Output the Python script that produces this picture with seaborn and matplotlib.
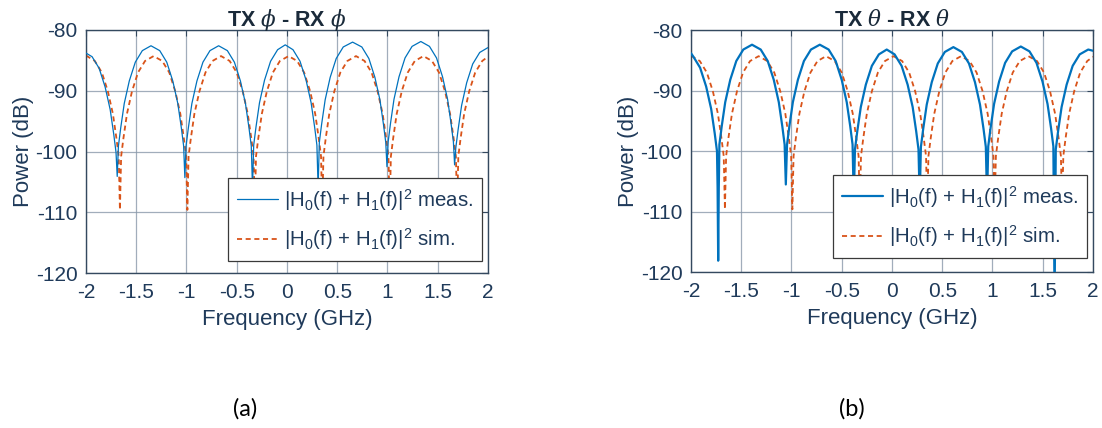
import matplotlib
matplotlib.use("Agg")
import matplotlib.pyplot as plt
import seaborn as sns
import pandas as pd

# ---------------- data ----------------
SIM_F = [-2.0, -1.912, -1.842, -1.782, -1.732, -1.697, -1.674, -1.662,
         -1.65, -1.627, -1.592, -1.542, -1.482, -1.412, -1.327, -1.241, -1.171, -1.111, -1.061, -1.026, -1.003, -0.991,
         -0.979, -0.956, -0.921, -0.871, -0.811, -0.741, -0.656, -0.57, -0.5, -0.44, -0.39, -0.355, -0.332, -0.32,
         -0.308, -0.285, -0.25, -0.2, -0.14, -0.07, 0.016, 0.101, 0.171, 0.231, 0.281, 0.316, 0.339, 0.351,
         0.363, 0.386, 0.421, 0.471, 0.531, 0.601, 0.687, 0.772, 0.842, 0.902, 0.952, 0.987, 1.01, 1.022,
         1.034, 1.057, 1.092, 1.142, 1.202, 1.272, 1.358, 1.443, 1.513, 1.573, 1.623, 1.658, 1.681, 1.693,
         1.705, 1.728, 1.763, 1.813, 1.873, 1.943, 2.0]
SIM_P = [-84.2, -85.1, -87.0, -90.1, -93.8, -97.8, -100.8, -109.6,
         -100.8, -97.8, -93.8, -90.1, -87.0, -85.1, -84.3, -85.1, -87.0, -90.1, -93.8, -97.8, -100.8, -109.6,
         -100.8, -97.8, -93.8, -90.1, -87.0, -85.1, -84.3, -85.1, -87.0, -90.1, -93.8, -97.8, -100.8, -109.6,
         -100.8, -97.8, -93.8, -90.1, -87.0, -85.1, -84.3, -85.1, -87.0, -90.1, -93.8, -97.8, -100.8, -109.6,
         -100.8, -97.8, -93.8, -90.1, -87.0, -85.1, -84.3, -85.1, -87.0, -90.1, -93.8, -97.8, -100.8, -109.6,
         -100.8, -97.8, -93.8, -90.1, -87.0, -85.1, -84.3, -85.1, -87.0, -90.1, -93.8, -97.8, -100.8, -109.6,
         -100.8, -97.8, -93.8, -90.1, -87.0, -85.1, -84.4]

PHI_MEAS_F = [-2.0, -1.939, -1.869, -1.809, -1.759, -1.724, -1.701, -1.689,
              -1.677, -1.654, -1.619, -1.569, -1.509, -1.439, -1.353, -1.266, -1.196, -1.136, -1.086, -1.051, -1.028, -1.016,
              -1.004, -0.981, -0.946, -0.896, -0.836, -0.766, -0.68, -0.593, -0.523, -0.463, -0.413, -0.378, -0.355, -0.343,
              -0.331, -0.308, -0.273, -0.223, -0.163, -0.093, -0.017, 0.06, 0.13, 0.19, 0.24, 0.275, 0.298, 0.31,
              0.322, 0.345, 0.38, 0.43, 0.49, 0.56, 0.653, 0.745, 0.815, 0.875, 0.925, 0.96, 0.983, 0.995,
              1.007, 1.03, 1.065, 1.115, 1.175, 1.245, 1.332, 1.418, 1.488, 1.548, 1.598, 1.633, 1.656, 1.668,
              1.68, 1.703, 1.738, 1.788, 1.848, 1.918, 2.0]
PHI_MEAS_P = [-83.8, -84.4, -86.3, -89.4, -93.1, -97.1, -100.1, -104.1,
              -99.1, -96.1, -92.1, -88.4, -85.3, -83.4, -82.6, -83.4, -85.3, -88.4, -92.1, -96.1, -99.1, -104.3,
              -99.1, -96.1, -92.1, -88.4, -85.3, -83.4, -82.6, -83.4, -85.3, -88.4, -92.1, -96.1, -99.1, -106.0,
              -98.95, -95.95, -91.95, -88.25, -85.15, -83.25, -82.45, -83.25, -85.15, -88.25, -91.95, -95.95, -98.95, -106.0,
              -98.5, -95.5, -91.5, -87.8, -84.7, -82.8, -82.0, -82.8, -84.7, -87.8, -91.5, -95.5, -98.5, -102.5,
              -98.4, -95.4, -91.4, -87.7, -84.6, -82.7, -81.9, -82.7, -84.6, -87.7, -91.4, -95.4, -98.4, -102.2,
              -99.4, -96.4, -92.4, -88.7, -85.6, -83.7, -82.9]

THETA_MEAS_F = [-2.0, -1.979, -1.909, -1.849, -1.799, -1.764, -1.741, -1.735, -1.729,
                -1.723, -1.717, -1.694, -1.659, -1.609, -1.549, -1.479, -1.3925, -1.306, -1.236, -1.176, -1.126, -1.091, -1.068, -1.056,
                -1.044, -1.021, -0.986, -0.936, -0.876, -0.806, -0.718, -0.63, -0.56, -0.5, -0.45, -0.415, -0.392, -0.38,
                -0.368, -0.345, -0.31, -0.26, -0.2, -0.13, -0.052, 0.026, 0.096, 0.156, 0.206, 0.241, 0.264, 0.276,
                0.288, 0.311, 0.346, 0.396, 0.456, 0.526, 0.611, 0.696, 0.766, 0.826, 0.876, 0.911, 0.934, 0.946,
                0.958, 0.981, 1.016, 1.066, 1.126, 1.196, 1.282, 1.368, 1.438, 1.498, 1.548, 1.583, 1.606, 1.618,
                1.63, 1.653, 1.688, 1.738, 1.798, 1.868, 1.953, 2.0]
THETA_MEAS_P = [-83.8, -84.3, -86.2, -89.3, -93.0, -97.0, -100.0, -106.0, -118.1,
                -106.0, -98.9, -95.9, -91.9, -88.2, -85.1, -83.2, -82.4, -83.2, -85.1, -88.2, -91.9, -95.9, -98.9, -105.5,
                -98.9, -95.9, -91.9, -88.2, -85.1, -83.2, -82.4, -83.2, -85.1, -88.2, -91.9, -95.9, -98.9, -108.0,
                -99.7, -96.7, -92.7, -89.0, -85.9, -84.0, -83.2, -84.0, -85.9, -89.0, -92.7, -96.7, -99.7, -108.0,
                -99.3, -96.3, -92.3, -88.6, -85.5, -83.6, -82.8, -83.6, -85.5, -88.6, -92.3, -96.3, -99.3, -108.0,
                -99.2, -96.2, -92.2, -88.5, -85.4, -83.5, -82.7, -83.5, -85.4, -88.5, -92.2, -96.2, -99.2, -125.0,
                -99.7, -96.7, -92.7, -89.0, -85.9, -84.0, -83.2, -83.4]

X_TICKS = [-2, -1.5, -1, -0.5, 0, 0.5, 1, 1.5, 2]
X_TICK_LABELS = ["-2", "-1.5", "-1", "-0.5", "0", "0.5", "1", "1.5", "2"]
Y_TICKS = [-120, -110, -100, -90, -80]
Y_TICK_LABELS = ["-120", "-110", "-100", "-90", "-80"]
TITLES = [r"TX $\mathit{\phi}$ - RX $\mathit{\phi}$", r"TX $\mathit{\theta}$ - RX $\mathit{\theta}$"]
LABEL_MEAS = r"|H$_0$(f) + H$_1$(f)|$^2$ meas."
LABEL_SIM = r"|H$_0$(f) + H$_1$(f)|$^2$ sim."
PANEL_LABELS = ["(a)", "(b)"]

# ---------------- style ----------------
sns.set_style("white")
plt.rcParams["font.family"] = ["Liberation Sans", "DejaVu Sans"]
plt.rcParams["mathtext.fontset"] = "custom"
plt.rcParams["mathtext.it"] = "DejaVu Serif:italic"
plt.rcParams["mathtext.rm"] = "Liberation Sans"
plt.rcParams["mathtext.default"] = "regular"

TXT = "#1f3a5a"
EDGE = "#34495f"
GRID = "#8a99aa"
BLUE = "#0072BD"
ORANGE = "#D95319"

fig = plt.figure(figsize=(11.02, 4.28), dpi=100)
axes = [fig.add_axes([0.078, 0.362, 0.3648, 0.568]),
        fig.add_axes([0.627, 0.364, 0.3648, 0.5655])]

panels = [
    (PHI_MEAS_F, PHI_MEAS_P, 0.9, (0.353, 0.049)),
    (THETA_MEAS_F, THETA_MEAS_P, 1.6, (0.353, 0.058)),
]

for i, (ax, (mf, mp, mlw, lpos)) in enumerate(zip(axes, panels)):
    dm = pd.DataFrame({"f": mf, "p": mp})
    ds = pd.DataFrame({"f": SIM_F, "p": SIM_P})
    sns.lineplot(data=dm, x="f", y="p", ax=ax, color=BLUE, lw=mlw,
                 estimator=None, sort=False, label=LABEL_MEAS, zorder=3)
    sns.lineplot(data=ds, x="f", y="p", ax=ax, color=ORANGE, lw=1.3,
                 estimator=None, sort=False, label=LABEL_SIM, zorder=2,
                 dashes=False, linestyle=(0, (2.8, 2.0)))
    ax.set_xlim(-2, 2)
    ax.set_ylim(-120, -80)
    ax.set_xticks(X_TICKS)
    ax.set_xticklabels(X_TICK_LABELS)
    ax.set_yticks(Y_TICKS)
    ax.set_yticklabels(Y_TICK_LABELS)
    ax.grid(True, color=GRID, lw=0.9, alpha=0.8)
    ax.set_axisbelow(True)
    for s in ax.spines.values():
        s.set_color(EDGE)
        s.set_linewidth(1.0)
    ax.tick_params(axis="both", direction="in", length=4, width=0.8, color=EDGE,
                   labelcolor=TXT, labelsize=15, top=True, right=True)
    ax.tick_params(axis="x", pad=7)
    ax.tick_params(axis="y", pad=6)
    ax.set_xlabel("Frequency (GHz)", fontsize=16, color=TXT, labelpad=5)
    ax.set_ylabel("Power (dB)", fontsize=16, color=TXT, labelpad=1)
    ax.set_title(TITLES[i], fontsize=15.5, fontweight="bold", color="#1a2a3a", pad=3)
    leg = ax.legend(loc="lower left", bbox_to_anchor=lpos, borderaxespad=0,
                    fontsize=14.7, frameon=True, fancybox=False, framealpha=1,
                    edgecolor="#3a3a3a", handlelength=2.0, handletextpad=0.3,
                    borderpad=0.45, labelspacing=0.65)
    leg.get_frame().set_linewidth(0.9)
    for t in leg.get_texts():
        t.set_color(TXT)
    leg.set_zorder(5)

fig.text(245 / 1102, 1 - 409 / 428, PANEL_LABELS[0], fontsize=17, family="Lato",
         ha="center", va="center", color="black")
fig.text(852 / 1102, 1 - 409 / 428, PANEL_LABELS[1], fontsize=17, family="Lato",
         ha="center", va="center", color="black")

fig.savefig("out.png", dpi=100)
